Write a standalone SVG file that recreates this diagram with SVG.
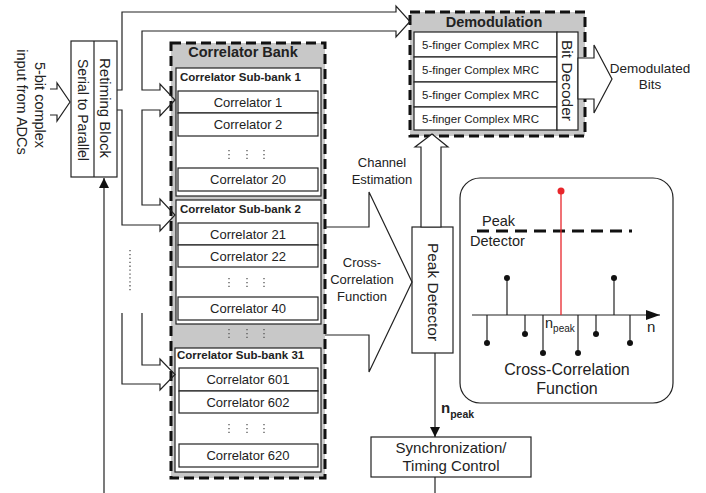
<svg xmlns="http://www.w3.org/2000/svg" width="706" height="493" viewBox="0 0 706 493">
<style>
text{font-family:"Liberation Sans",Arial,sans-serif;fill:#222}
.box{fill:#fff;stroke:#222;stroke-width:1.2}
.dash{fill:#c8c8c8;stroke:#111;stroke-width:3;stroke-dasharray:10 5}
.ln{fill:none;stroke:#222;stroke-width:1.2}
.wf{fill:#fff;stroke:#222;stroke-width:1.2}
.dots{fill:none;stroke:#555;stroke-width:1.3;stroke-dasharray:1.3 2.6}
.c13{font-size:13px;text-anchor:middle}
.sb{font-size:11.5px;font-weight:bold}
.mrc{font-size:11.5px}
.stem{stroke:#222;stroke-width:1.2}
</style>
<defs>
<marker id="ah" viewBox="0 0 10 10" refX="10" refY="5" markerWidth="10" markerHeight="10" markerUnits="userSpaceOnUse" orient="auto"><path d="M0,0 L10,5 L0,10 Z" fill="#111"/></marker>
<marker id="ah2" viewBox="0 0 10 10" refX="10" refY="5" markerWidth="14" markerHeight="14" markerUnits="userSpaceOnUse" orient="auto"><path d="M0,1.5 L10,5 L0,8.5 Z" fill="#111"/></marker>
</defs>

<g id="input-label">
<text font-size="14.5" text-anchor="middle" transform="translate(40,105) rotate(90)" y="5">5-bit complex</text>
<text font-size="14.5" text-anchor="middle" transform="translate(22,102) rotate(90)" y="5">input from ADCs</text>
</g>

<g id="retiming">
<rect class="box" x="71" y="41" width="46" height="136"/>
<line class="ln" x1="94" y1="41" x2="94" y2="177"/>
<text font-size="14" text-anchor="middle" transform="translate(82.5,110) rotate(90)" y="5">Serial to Parallel</text>
<text font-size="15" text-anchor="middle" transform="translate(105.5,108) rotate(90)" y="5.3">Retiming Block</text>
</g>

<g id="correlator-bank">
<rect class="dash" x="171" y="43" width="154" height="435"/>
<text x="243" y="57" font-size="14.5" font-weight="bold" text-anchor="middle">Correlator Bank</text>
<g id="subbank1">
<rect class="box" x="176" y="68" width="145" height="128"/>
<text class="sb" x="180" y="81">Correlator Sub-bank 1</text>
<rect class="box" x="178" y="91" width="140" height="22"/>
<text class="c13" x="248" y="106.5">Correlator 1</text>
<rect class="box" x="178" y="113" width="140" height="23"/>
<text class="c13" x="248" y="129">Correlator 2</text>
<path class="dots" d="M229,150V161M247,150V161M264,150V161"/>
<rect class="box" x="178" y="168" width="140" height="23"/>
<text class="c13" x="248" y="184">Correlator 20</text>
</g>
<g id="subbank2">
<rect class="box" x="176" y="200" width="145" height="124"/>
<text class="sb" x="180" y="213">Correlator Sub-bank 2</text>
<rect class="box" x="178" y="223" width="140" height="22"/>
<text class="c13" x="248" y="238.5">Correlator 21</text>
<rect class="box" x="178" y="245" width="140" height="22"/>
<text class="c13" x="248" y="260.5">Correlator 22</text>
<path class="dots" d="M229,278V289M247,278V289M264,278V289"/>
<rect class="box" x="178" y="297" width="140" height="23"/>
<text class="c13" x="248" y="313">Correlator 40</text>
</g>
<path class="dots" d="M229,329V340M247,329V340M264,329V340"/>
<g id="subbank31">
<rect class="box" x="175" y="348" width="146" height="124"/>
<text class="sb" x="177" y="359">Correlator Sub-bank 31</text>
<rect class="box" x="179" y="368" width="139" height="23"/>
<text class="c13" x="248" y="384">Correlator 601</text>
<rect class="box" x="179" y="391" width="139" height="22"/>
<text class="c13" x="248" y="406.5">Correlator 602</text>
<path class="dots" d="M229,424V435M247,424V435M264,424V435"/>
<rect class="box" x="179" y="444" width="139" height="23"/>
<text class="c13" x="248" y="460">Correlator 620</text>
</g>
</g>

<g id="demodulation">
<rect class="dash" x="410" y="12" width="175" height="124"/>
<text x="494" y="27" font-size="14.5" font-weight="bold" text-anchor="middle">Demodulation</text>
<rect class="box" x="414" y="32" width="143" height="25"/>
<rect class="box" x="414" y="57" width="143" height="25"/>
<rect class="box" x="414" y="82" width="143" height="25"/>
<rect class="box" x="414" y="107" width="143" height="23"/>
<text class="mrc" x="422" y="48.5">5-finger Complex MRC</text>
<text class="mrc" x="422" y="73.5">5-finger Complex MRC</text>
<text class="mrc" x="422" y="98.5">5-finger Complex MRC</text>
<text class="mrc" x="422" y="122.5">5-finger Complex MRC</text>
<rect class="box" x="557" y="32" width="21" height="98"/>
<text font-size="15.5" text-anchor="middle" transform="translate(567.5,80.5) rotate(90)" y="5.5">Bit Decoder</text>
</g>

<g id="demod-output-label">
<text x="650" y="73" font-size="13.5" text-anchor="middle">Demodulated</text>
<text x="650" y="89" font-size="13.5" text-anchor="middle">Bits</text>
</g>

<g id="peak-detector">
<rect class="box" x="412" y="227" width="41" height="126"/>
<text font-size="15.5" text-anchor="middle" transform="translate(432.5,292) rotate(90)" y="5">Peak Detector</text>
</g>

<g id="sync">
<rect class="box" x="371" y="437" width="160" height="40"/>
<text x="451" y="453" font-size="15" text-anchor="middle">Synchronization/</text>
<text x="451" y="471" font-size="15" text-anchor="middle">Timing Control</text>
</g>

<g id="inset">
<rect x="460" y="178" width="213" height="225" rx="20" fill="#fff" stroke="#222" stroke-width="1.2"/>
<line x1="477" y1="231" x2="632" y2="231" stroke="#111" stroke-width="3" stroke-dasharray="12 7"/>
<text x="482" y="226" font-size="14.5">Peak</text>
<text x="470" y="246" font-size="14.5">Detector</text>
<line x1="472" y1="315" x2="660" y2="315" stroke="#222" stroke-width="1.2" marker-end="url(#ah2)"/>
<text x="647" y="332" font-size="15">n</text>
<g fill="#111">
<line class="stem" x1="487" y1="315" x2="487" y2="343"/><circle cx="487" cy="343" r="3"/>
<line class="stem" x1="507" y1="315" x2="507" y2="278"/><circle cx="507" cy="278" r="3"/>
<line class="stem" x1="525" y1="315" x2="525" y2="334"/><circle cx="525" cy="334" r="3"/>
<line class="stem" x1="543" y1="315" x2="543" y2="353"/><circle cx="543" cy="353" r="3"/>
<line class="stem" x1="578" y1="315" x2="578" y2="353"/><circle cx="578" cy="353" r="3"/>
<line class="stem" x1="596" y1="315" x2="596" y2="334"/><circle cx="596" cy="334" r="3"/>
<line class="stem" x1="614" y1="315" x2="614" y2="278"/><circle cx="614" cy="278" r="3"/>
<line class="stem" x1="630" y1="315" x2="630" y2="343"/><circle cx="630" cy="343" r="3"/>
</g>
<line x1="561" y1="315" x2="561" y2="191" stroke="#e8262b" stroke-width="1.3"/>
<circle cx="561" cy="191" r="3.5" fill="#e8262b"/>
<text x="545" y="328" font-size="14.5">n<tspan font-size="10" dy="4">peak</tspan></text>
<text x="567" y="375" font-size="16" text-anchor="middle">Cross-Correlation</text>
<text x="567" y="394" font-size="16" text-anchor="middle">Function</text>
</g>

<g id="connectors">
<path class="ln" d="M50,89H57V83L70,102L57,121V115H50"/>
<path class="ln" d="M117,90H122V12H396V6L410,21.5L396,37V31H142V90H160V84L175,100L160,116V110H142V205H160V199L175,215L160,231V225H122V110H117"/>
<path class="ln" d="M122,313V384H160V390L175,374.5L160,359V365H142V313"/>
<path class="dots" d="M130,250V293"/>
<line class="ln" x1="104" y1="493" x2="104" y2="178" marker-end="url(#ah)"/>
<path class="ln" d="M325,227H369V192L412,282L369,372V335H325"/>
<text class="c13" x="382" y="167">Channel</text>
<text class="c13" x="382" y="184">Estimation</text>
<text class="c13" x="362" y="267">Cross-</text>
<text class="c13" x="362" y="284">Correlation</text>
<text class="c13" x="362" y="301">Function</text>
<path class="wf" d="M421,227V147H415L432,134L448,147H441V227Z"/>
<path class="wf" d="M578,58H594V45L612,79L594,113V99H578Z"/>
<line class="ln" x1="435" y1="353" x2="435" y2="437" marker-end="url(#ah)"/>
<text x="441" y="413" font-size="15" font-weight="bold">n<tspan font-size="10.5" dy="5">peak</tspan></text>
<line class="ln" x1="435" y1="477" x2="435" y2="493"/>
</g>
</svg>
